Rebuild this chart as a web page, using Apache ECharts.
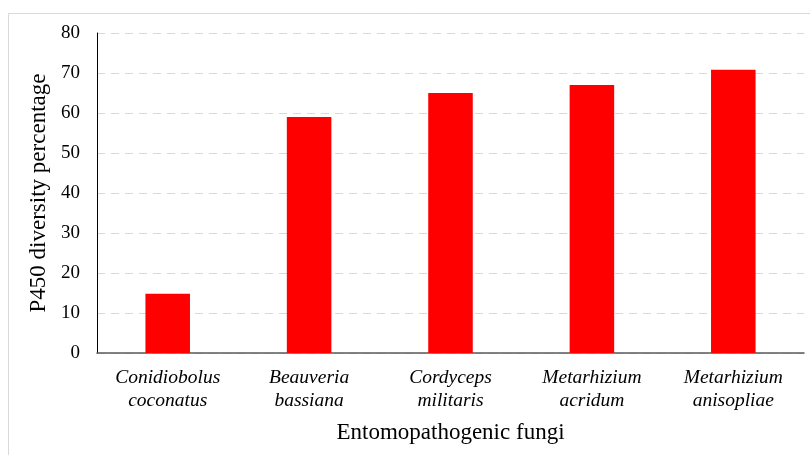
<!DOCTYPE html>
<html>
<head>
<meta charset="utf-8">
<script src="https://cdn.jsdelivr.net/npm/echarts@6/dist/echarts.min.js"></script>
<style>
  html, body { margin: 0; padding: 0; background: #fff; }
  #main { width: 810px; height: 455px; }
</style>
</head>
<body>
<div id="main"></div>
<script>
var fungi = ['Conidiobolus\ncoconatus', 'Beauveria\nbassiana', 'Cordyceps\nmilitaris', 'Metarhizium\nacridum', 'Metarhizium\nanisopliae'];
var diversity = [14.8, 59, 65, 67, 70.8];
var yTicks = [0, 80, 10]; // min, max, interval

var chart = echarts.init(document.getElementById('main'), null, { renderer: 'canvas' });

var option = {
  animation: false,
  textStyle: { fontFamily: 'Liberation Serif' },
  graphic: [{
    type: 'rect',
    shape: { x: 8.5, y: 13.5, width: 900, height: 500 },
    style: { fill: 'none', stroke: '#d9d9d9', lineWidth: 1 },
    silent: true
  }],
  grid: { left: 97, right: 6, top: 33, bottom: 102 },
  xAxis: {
    type: 'category',
    data: fungi,
    name: 'Entomopathogenic fungi',
    nameLocation: 'middle',
    nameGap: 68,
    nameTextStyle: { fontSize: 23, color: '#000', fontFamily: 'Liberation Serif' },
    axisLine: { lineStyle: { color: '#595959', width: 1.5 } },
    axisTick: { show: false },
    axisLabel: {
      fontSize: 19.5, color: '#000', fontStyle: 'italic', lineHeight: 23,
      fontFamily: 'Liberation Serif', margin: 13
    }
  },
  yAxis: {
    type: 'value',
    min: yTicks[0], max: yTicks[1], interval: yTicks[2],
    name: 'P450 diversity percentage',
    nameLocation: 'middle',
    nameGap: 41,
    nameTextStyle: { fontSize: 23, color: '#000', fontFamily: 'Liberation Serif' },
    axisLine: { show: true, lineStyle: { color: '#000', width: 1 } },
    axisTick: { show: false },
    axisLabel: { fontSize: 19, color: '#000', margin: 17, fontFamily: 'Liberation Serif' },
    splitLine: { lineStyle: { color: '#d9d9d9', type: [8, 6], width: 1 } }
  },
  series: [{
    type: 'bar',
    data: diversity,
    barWidth: '31.5%',
    itemStyle: { color: '#ff0000' }
  }]
};

chart.setOption(option);
</script>
</body>
</html>
